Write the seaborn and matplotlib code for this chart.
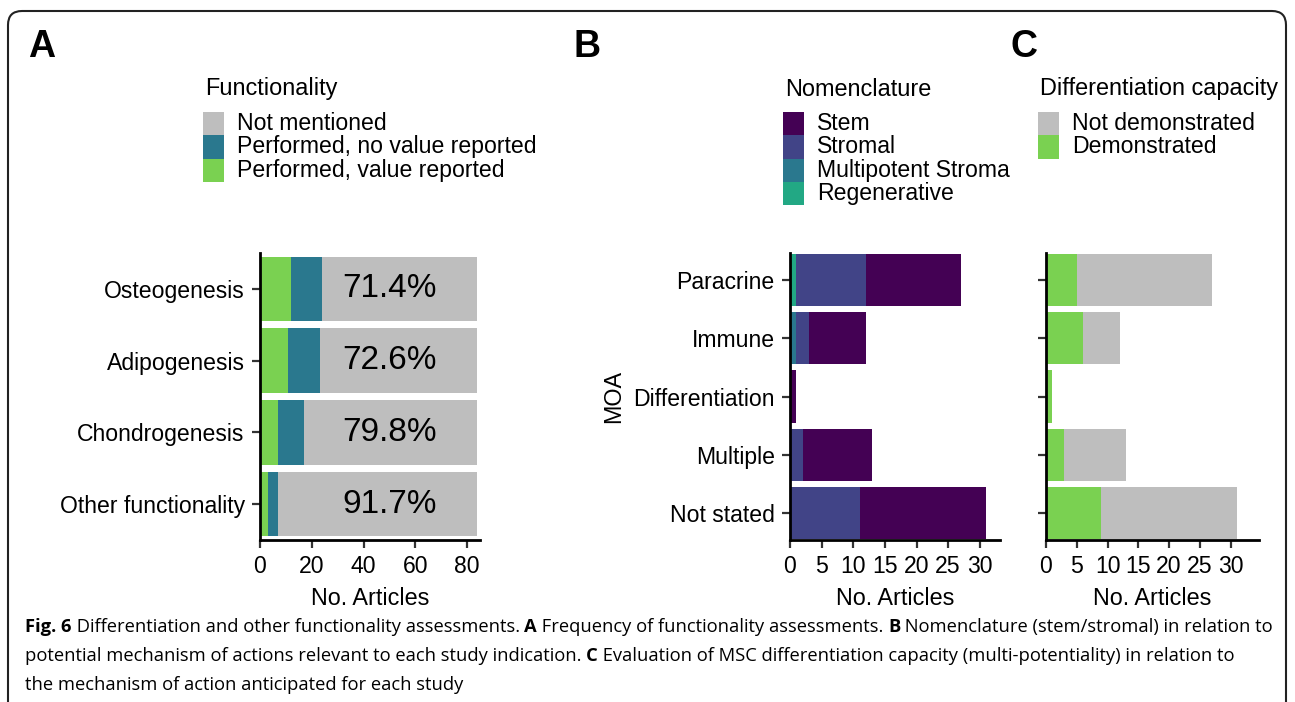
import matplotlib
matplotlib.use('Agg')
import matplotlib.pyplot as plt
from matplotlib.patches import FancyBboxPatch, Rectangle
import seaborn as sns
import numpy as np

# ---------------- data ----------------
# panel A - functionality assessments
func_cats = ['Osteogenesis', 'Adipogenesis', 'Chondrogenesis', 'Other functionality']
value_reported = [12, 11, 7, 3]
no_value_reported = [12, 12, 10, 4]
not_mentioned = [60, 61, 67, 77]

# panel B - nomenclature by MOA
moa_cats = ['Paracrine', 'Immune', 'Differentiation', 'Multiple', 'Not stated']
regenerative = [1, 0, 0, 0, 0]
multipotent = [0, 1, 0, 0, 0]
stromal = [11, 2, 0, 2, 11]
stem = [15, 9, 1, 11, 20]

# panel C - differentiation capacity by MOA
demonstrated = [5, 6, 1, 3, 9]
not_demonstrated = [22, 6, 0, 10, 22]

GRAY = '#BEBEBE'
GREEN = '#7AD151'
TEAL = '#2A788E'
STEM = '#440154'
STROMAL = '#414487'
MULTI = '#2A788E'
REGEN = '#22A884'

sns.set_style('ticks')
plt.rcParams['font.family'] = ['Liberation Sans', 'DejaVu Sans']
plt.rcParams['text.color'] = 'black'
plt.rcParams['axes.labelcolor'] = 'black'
plt.rcParams['xtick.color'] = 'black'
plt.rcParams['ytick.color'] = 'black'

W, H = 1295, 702
fig = plt.figure(figsize=(W / 100, H / 100), dpi=100)


def fx(px):
    return px / W


def fy(py):
    return 1 - py / H


def add_ax(left, right, top, bottom):
    return fig.add_axes([fx(left), fy(bottom), (right - left) / W, (bottom - top) / H])


def stacked(ax, cats, layers, colors):
    # draw cumulative totals, widest first, so the segments stack
    cum = np.cumsum(np.array(layers), axis=0)
    for i in range(len(layers) - 1, -1, -1):
        sns.barplot(x=cum[i], y=cats, color=colors[i], orient='h', width=0.9,
                    saturation=1, linewidth=0, ax=ax)


def style(ax, xmax, ticks, pad_y):
    n = len(ax.get_yticks())
    ax.set_xlim(0, xmax)
    ax.set_xticks(ticks)
    ax.set_ylim(n - 1 + pad_y, -pad_y)
    sns.despine(ax=ax)
    for s in ['left', 'bottom']:
        ax.spines[s].set_linewidth(2)
        ax.spines[s].set_color('black')
    ax.tick_params(length=6, width=1.6, color='#333333', labelsize=16.6,
                   labelcolor='black', pad=5)
    ax.set_xlabel('No. Articles', fontsize=16.8, labelpad=6.5)
    ax.set_ylabel('')


# ---------------- panel A ----------------
axA = add_ax(260, 480, 253, 540)
stacked(axA, func_cats, [value_reported, no_value_reported, not_mentioned], [GREEN, TEAL, GRAY])
style(axA, 85, [0, 20, 40, 60, 80], 0.5)
totals = np.array(value_reported) + np.array(no_value_reported) + np.array(not_mentioned)
for i, nm in enumerate(not_mentioned):
    axA.text(50, i, f'{nm / totals[i] * 100:.1f}%', ha='center', va='center', fontsize=24)

# ---------------- panel B ----------------
axB = add_ax(790, 1000, 253, 540)
stacked(axB, moa_cats, [regenerative, multipotent, stromal, stem], [REGEN, MULTI, STROMAL, STEM])
style(axB, 33.2, [0, 5, 10, 15, 20, 25, 30], 0.46)
axB.set_ylabel('MOA', fontsize=16.8, labelpad=6)

# ---------------- panel C ----------------
axC = add_ax(1046, 1259, 253, 540)
stacked(axC, moa_cats, [demonstrated, not_demonstrated], [GREEN, GRAY])
style(axC, 34.6, [0, 5, 10, 15, 20, 25, 30], 0.46)
axC.set_yticklabels([])

# ---------------- legends ----------------
def legend(x_key, title, labels, colors, top=112, row=23.3, kw=21):
    fig.text(fx(x_key + 2), fy(89), title, va='center', ha='left', fontsize=16.9)
    for i, (lab, col) in enumerate(zip(labels, colors)):
        fig.add_artist(Rectangle((fx(x_key), fy(top + row * (i + 1))), kw / W, row / H,
                                 transform=fig.transFigure, facecolor=col, lw=0))
        fig.text(fx(x_key + kw + 13), fy(top + row * i + row / 2), lab,
                 va='center', ha='left', fontsize=16.6)


legend(203, 'Functionality',
       ['Not mentioned', 'Performed, no value reported', 'Performed, value reported'],
       [GRAY, TEAL, GREEN])
legend(783, 'Nomenclature',
       ['Stem', 'Stromal', 'Multipotent Stroma', 'Regenerative'],
       [STEM, STROMAL, MULTI, REGEN])
legend(1038, 'Differentiation capacity',
       ['Not demonstrated', 'Demonstrated'], [GRAY, GREEN])

# panel letters
for letter, x in [('A', 28), ('B', 574), ('C', 1011)]:
    fig.text(fx(x), fy(57), letter, fontsize=27, fontweight='bold', va='baseline')

# ---------------- caption ----------------
renderer = fig.canvas.get_renderer()


def rich_line(x, y, parts, size=13.2):
    x = fx(x)
    for txt, bold in parts:
        t = fig.text(x, fy(y), txt, fontsize=size, family=['Open Sans', 'DejaVu Sans'],
                     fontweight='bold' if bold else 'normal', va='baseline', ha='left')
        x += t.get_window_extent(renderer=renderer).width / fig.bbox.width


rich_line(25, 632, [('Fig. 6', True), (' Differentiation and other functionality assessments. ', False),
                    ('A', True), (' Frequency of functionality assessments. ', False),
                    ('B', True), (' Nomenclature (stem/stromal) in relation to', False)])
rich_line(25, 661, [('potential mechanism of actions relevant to each study indication. ', False),
                    ('C', True), (' Evaluation of MSC differentiation capacity (multi-potentiality) in relation to', False)])
rich_line(25, 690, [('the mechanism of action anticipated for each study', False)])

# outer frame
frame = FancyBboxPatch((0.08, -0.3), 12.78, 6.91 + 0.3, boxstyle='round,pad=0,rounding_size=0.14',
                       transform=fig.dpi_scale_trans, facecolor='none', edgecolor='#222222', lw=1.5)
fig.add_artist(frame)

fig.savefig('out.png', dpi=100)
